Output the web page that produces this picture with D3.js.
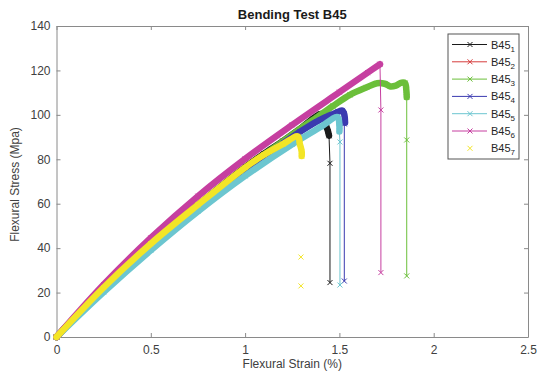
<!DOCTYPE html>
<html>
<head>
<meta charset="utf-8">
<script src="https://cdn.jsdelivr.net/npm/d3@7"></script>
<style>
  body { margin: 0; background: #fff; }
  text { font-family: "Liberation Sans", Arial, Helvetica, sans-serif; }
</style>
</head>
<body>
<div id="chart"></div>
<script>
// tick labels
let xTicks = [0, 0.5, 1, 1.5, 2, 2.5];
let yTicks = [0, 20, 40, 60, 80, 100, 120, 140];

// legend: B45 + subscript
let seriesIds = ['1', '2', '3', '4', '5', '6', '7'];

// loading part of each specimen [strain %, stress MPa] (dense markers -> thick band)
let b45_1 = [[0, 0], [0.25, 22.4], [0.5, 42.2], [0.75, 59.5], [1.0, 76.5], [1.1, 82.5], [1.2, 88.2], [1.3, 94.3], [1.4, 100.4], [1.415, 99.3], [1.43, 95], [1.44, 92.5], [1.445, 90.6]];
let b45_2 = []; // not visible in the figure
let b45_3 = [[0, 0], [0.25, 22.2], [0.5, 41.8], [0.75, 59.2], [1.0, 75.8], [1.15, 85], [1.29, 93.6], [1.38, 98.9], [1.466, 104], [1.556, 109], [1.645, 112.4], [1.70, 114.2], [1.74, 114], [1.77, 112.8], [1.80, 113.2], [1.83, 114.5], [1.848, 114.3], [1.855, 111], [1.857, 108]];
let b45_4 = [[0, 0], [0.25, 22.1], [0.5, 41.8], [0.75, 59], [1.0, 75.5], [1.15, 84.2], [1.291, 92.4], [1.38, 97], [1.45, 99.8], [1.494, 101.4], [1.515, 102], [1.525, 100.5], [1.53, 96.5]];
let b45_5 = [[0, 0], [0.25, 20.2], [0.5, 39], [0.75, 56.5], [1.0, 72.5], [1.25, 86.8], [1.4, 94.5], [1.49, 99], [1.5, 95], [1.5, 92.5]];
let b45_6 = [[0, 0], [0.25, 23.6], [0.5, 44.6], [0.75, 63.4], [1.0, 80.2], [1.25, 95.5], [1.5, 110.2], [1.65, 119], [1.715, 122.8]];
let b45_7 = [[0, 0], [0.25, 22.3], [0.5, 42], [0.75, 59.5], [1.0, 76.3], [1.1, 82], [1.2, 86.8], [1.28, 90.3], [1.29, 87], [1.3, 83.5], [1.3, 81.5]];

// failure drop points after the loading curve
let b45_1Drop = [[1.45, 78.2], [1.45, 24.5]];
let b45_2Drop = [];
let b45_3Drop = [[1.857, 88.7], [1.857, 27.5]];
let b45_4Drop = [[1.526, 95.9], [1.526, 25.2]];
let b45_5Drop = [[1.503, 87.8], [1.503, 23.4]];
let b45_6Drop = [[1.72, 102.2], [1.72, 29]];
let b45_7Drop = [[1.296, 36], [1.296, 23]];

let curves = [b45_1, b45_2, b45_3, b45_4, b45_5, b45_6, b45_7];
let drops = [b45_1Drop, b45_2Drop, b45_3Drop, b45_4Drop, b45_5Drop, b45_6Drop, b45_7Drop];

let colors = ['#1a1a1a', '#d63c3c', '#6bbf3a', '#3a3ab0', '#6cc6d0', '#c63fa0', '#f3e526'];
let lineOnly = [true, true, true, true, true, true, false]; // B45_7 drawn with markers only

let svgWidth = 544, svgHeight = 375;
let plot = {left: 56.5, right: 528, top: 26, bottom: 337};

let svg = d3.select('#chart').append('svg').attr('width', svgWidth).attr('height', svgHeight);

let x = d3.scaleLinear().domain([0, 2.5]).range([plot.left, plot.right]);
let y = d3.scaleLinear().domain([0, 140]).range([plot.bottom, plot.top]);

let axisColor = '#8a8a8a';
let labelColor = '#404040';

// axes, ticks pointing inward on all four sides
function styleAxis(g){
  g.select('.domain').attr('stroke', axisColor).attr('stroke-width', 1);
  g.selectAll('.tick line').attr('stroke', axisColor);
  g.selectAll('.tick text').attr('fill', labelColor).attr('font-size', 12)
    .attr('font-family', '"Liberation Sans", Arial, sans-serif');
}

svg.append('g').attr('transform', 'translate(0,' + plot.bottom + ')')
  .call(d3.axisBottom(x).tickValues(xTicks).tickSizeInner(-4).tickSizeOuter(0).tickPadding(8).tickFormat(d3.format('')))
  .call(styleAxis);
svg.append('g').attr('transform', 'translate(0,' + plot.top + ')')
  .call(d3.axisTop(x).tickValues(xTicks).tickSizeInner(-4).tickSizeOuter(0).tickFormat(''))
  .call(styleAxis);
svg.append('g').attr('transform', 'translate(' + plot.left + ',0)')
  .call(d3.axisLeft(y).tickValues(yTicks).tickSizeInner(-4).tickSizeOuter(0).tickPadding(6))
  .call(styleAxis);
svg.append('g').attr('transform', 'translate(' + plot.right + ',0)')
  .call(d3.axisRight(y).tickValues(yTicks).tickSizeInner(-4).tickSizeOuter(0).tickFormat(''))
  .call(styleAxis);

// title and axis labels
svg.append('text').attr('x', (plot.left + plot.right) / 2).attr('y', 19)
  .attr('text-anchor', 'middle').attr('font-size', 13).attr('font-weight', 'bold').attr('fill', '#1a1a1a')
  .text('Bending Test B45');
svg.append('text').attr('x', (plot.left + plot.right) / 2).attr('y', 368)
  .attr('text-anchor', 'middle').attr('font-size', 12).attr('fill', labelColor)
  .text('Flexural Strain (%)');
svg.append('text').attr('transform', 'translate(19,' + ((plot.top + plot.bottom) / 2 + 3) + ') rotate(-90)')
  .attr('text-anchor', 'middle').attr('font-size', 12).attr('fill', labelColor)
  .text('Flexural Stress (Mpa)');

let line = d3.line().x(d => x(d[0])).y(d => y(d[1]));
let smooth = d3.line().x(d => x(d[0])).y(d => y(d[1])).curve(d3.curveCatmullRom.alpha(0.5));
let xMark = 'M-2.5,-2.5L2.5,2.5M-2.5,2.5L2.5,-2.5';

let dataLayer = svg.append('g');

curves.forEach((curve, i) => {
  if(curve.length == 0) return;
  let g = dataLayer.append('g');
  // dense x markers on the loading curve read as a thick band
  g.append('path').attr('d', smooth(curve)).attr('fill', 'none')
    .attr('stroke', colors[i]).attr('stroke-width', 6.5)
    .attr('stroke-linejoin', 'round').attr('stroke-linecap', 'round');
  let drop = drops[i];
  if(lineOnly[i] && drop.length > 0){
    g.append('path').attr('d', line([curve[curve.length - 1]].concat(drop))).attr('fill', 'none')
      .attr('stroke', colors[i]).attr('stroke-width', 1);
  }
  g.selectAll('.mark').data(curve.concat(drop)).enter().append('path').attr('class', 'mark')
    .attr('transform', d => 'translate(' + x(d[0]) + ',' + y(d[1]) + ')')
    .attr('d', xMark).attr('fill', 'none').attr('stroke', colors[i]).attr('stroke-width', 1);
});

// legend
let legend = svg.append('g').attr('transform', 'translate(448,34)');
legend.append('rect').attr('width', 71).attr('height', 125)
  .attr('fill', '#fff').attr('stroke', '#555').attr('stroke-width', 1);
seriesIds.forEach((id, i) => {
  let row = legend.append('g').attr('transform', 'translate(0,' + (10.5 + i * 17.3) + ')');
  if(lineOnly[i]){
    row.append('line').attr('x1', 4).attr('x2', 39).attr('stroke', colors[i]).attr('stroke-width', 1);
  }
  row.append('path').attr('transform', 'translate(22,0)').attr('d', xMark)
    .attr('fill', 'none').attr('stroke', colors[i]).attr('stroke-width', 1);
  let t = row.append('text').attr('x', 43).attr('y', 4).attr('font-size', 11).attr('fill', '#262626');
  t.append('tspan').text('B45');
  t.append('tspan').attr('dy', 3).attr('font-size', 8).text(id);
});
</script>
</body>
</html>
